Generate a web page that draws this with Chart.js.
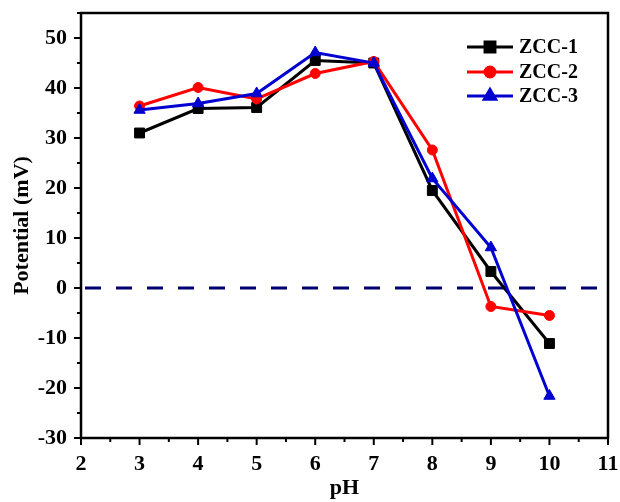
<!DOCTYPE html>
<html>
<head>
<meta charset="utf-8">
<script src="https://cdn.jsdelivr.net/npm/chart.js@4.4.1/dist/chart.umd.min.js"></script>
<style>
  html, body { margin: 0; padding: 0; background: #fff; }
  #wrap { width: 620px; height: 502px; }
</style>
</head>
<body>
<div id="wrap"><canvas id="zeta"></canvas></div>
<script>
// ── Data ─────────────────────────────────────────────────────────

const phValues = [3, 4, 5, 6, 7, 8, 9, 10];
const zcc1 = [31.0, 35.9, 36.1, 45.5, 45.0, 19.5, 3.3, -11.1];
const zcc2 = [36.4, 40.1, 37.8, 42.9, 45.3, 27.6, -3.7, -5.5];
const zcc3 = [35.6, 36.9, 38.9, 47.1, 45.0, 21.9, 8.1, -21.6];

const yTicks = [-30, -20, -10, 0, 10, 20, 30, 40, 50];
const xTicks = [2, 3, 4, 5, 6, 7, 8, 9, 10, 11];

const FONT = '"Liberation Serif", "Times New Roman", serif';

// ── Series definitions ───────────────────────────────────────────

const series = [
    { label: 'ZCC-1', values: zcc1, color: '#000000', style: 'rect', radius: 7, order: 2 },
    { label: 'ZCC-2', values: zcc2, color: '#ff0000', style: 'circle', radius: 5, order: 1 },
    { label: 'ZCC-3', values: zcc3, color: '#0000d0', style: 'triangle', radius: 6.5, order: 0 },
];

const toPoints = (vals) => vals.map((v, i) => ({ x: phValues[i], y: v }));

// ── Frame, ticks and zero line ───────────────────────────────────

const framePlugin = {
    id: 'frame',
    beforeDatasetsDraw(chart) {
        const { ctx, chartArea: a, scales: { y } } = chart;
        const y0 = y.getPixelForValue(0);
        ctx.save();
        ctx.strokeStyle = '#000070';
        ctx.lineWidth = 3;
        ctx.setLineDash([16, 15]);
        ctx.beginPath();
        ctx.moveTo(a.left + 4, y0);
        ctx.lineTo(a.right, y0);
        ctx.stroke();
        ctx.restore();
    },
    afterDraw(chart) {
        const { ctx, chartArea: a, scales: { x, y } } = chart;
        ctx.save();
        ctx.strokeStyle = '#000';
        ctx.lineWidth = 2.5;
        ctx.strokeRect(a.left, a.top, a.right - a.left, a.bottom - a.top);

        ctx.lineWidth = 2;
        ctx.beginPath();
        // left axis: major every 10, minor every 5
        for (let v = -30; v <= 55; v += 5) {
            const py = y.getPixelForValue(v);
            const len = v % 10 === 0 ? 7 : 4;
            ctx.moveTo(a.left, py);
            ctx.lineTo(a.left - len, py);
        }
        // bottom axis: major every 1, minor every 0.5
        for (let v = 2; v <= 11; v += 0.5) {
            const px = x.getPixelForValue(v);
            const len = Number.isInteger(v) ? 7 : 4;
            ctx.moveTo(px, a.bottom);
            ctx.lineTo(px, a.bottom + len);
        }
        ctx.stroke();
        ctx.restore();
    },
};

// ── Legend: line segment with marker, then label ─────────────────

const legendPlugin = {
    id: 'lineLegend',
    afterDraw(chart) {
        const ctx = chart.ctx;
        const x0 = 467, x1 = 513, textX = 519;
        const rows = [47, 72, 96];
        ctx.save();
        ctx.font = `bold 20px ${FONT}`;
        ctx.textBaseline = 'middle';
        ctx.textAlign = 'left';
        series.forEach((s, i) => {
            const ry = rows[i];
            ctx.strokeStyle = s.color;
            ctx.lineWidth = 3;
            ctx.beginPath();
            ctx.moveTo(x0, ry);
            ctx.lineTo(x1, ry);
            ctx.stroke();
            ctx.fillStyle = s.color;
            Chart.helpers.drawPoint(ctx, { pointStyle: s.style, radius: s.radius, borderWidth: 1, rotation: 0 }, (x0 + x1) / 2, ry);
            ctx.fill();
            ctx.fillStyle = '#000';
            ctx.fillText(s.label, textX, ry + 1);
        });
        ctx.restore();
    },
};

// ── Chart ────────────────────────────────────────────────────────

function draw() {
    new Chart(document.getElementById('zeta'), {
        type: 'line',
        plugins: [framePlugin, legendPlugin],
        data: {
            datasets: series.map(s => ({
                label: s.label,
                data: toPoints(s.values),
                borderColor: s.color,
                backgroundColor: s.color,
                borderWidth: 3,
                pointStyle: s.style,
                pointRadius: s.radius,
                pointBorderWidth: 1,
                pointBorderColor: s.color,
                pointBackgroundColor: s.color,
                tension: 0,
                order: s.order,
            })),
        },
        options: {
            responsive: true,
            maintainAspectRatio: false,
            animation: false,
            events: [],
            layout: { padding: { left: 0, right: 12, top: 13, bottom: 0 } },
            plugins: {
                legend: { display: false },
                tooltip: { enabled: false },
            },
            scales: {
                x: {
                    type: 'linear',
                    min: 2,
                    max: 11,
                    afterBuildTicks: (scale) => { scale.ticks = xTicks.map(v => ({ value: v })); },
                    afterFit: (scale) => {
                        scale.height = 64;
                        scale.paddingLeft = 0;
                        scale.paddingRight = 0;
                    },
                    grid: { display: false, drawTicks: false },
                    border: { display: false },
                    ticks: {
                        padding: 13,
                        color: '#000',
                        font: { family: FONT, size: 22, weight: 'bold' },
                        maxRotation: 0,
                    },
                    title: {
                        display: true,
                        text: 'pH',
                        color: '#000',
                        font: { family: FONT, size: 22, weight: 'bold' },
                        padding: { top: 0, bottom: 0 },
                    },
                },
                y: {
                    type: 'linear',
                    min: -30,
                    max: 55,
                    afterBuildTicks: (scale) => { scale.ticks = yTicks.map(v => ({ value: v })); },
                    afterFit: (scale) => {
                        scale.width = 81;
                        scale.paddingTop = 0;
                        scale.paddingBottom = 0;
                    },
                    grid: { display: false, drawTicks: false },
                    border: { display: false },
                    ticks: {
                        padding: 14,
                        color: '#000',
                        font: { family: FONT, size: 22, weight: 'bold' },
                    },
                    title: {
                        display: true,
                        text: 'Potential (mV)',
                        color: '#000',
                        font: { family: FONT, size: 22, weight: 'bold' },
                        padding: { top: 9, bottom: 0 },
                    },
                },
            },
        },
    });
}

document.fonts.load('bold 22px "Liberation Serif"').then(draw, draw);
</script>
</body>
</html>
